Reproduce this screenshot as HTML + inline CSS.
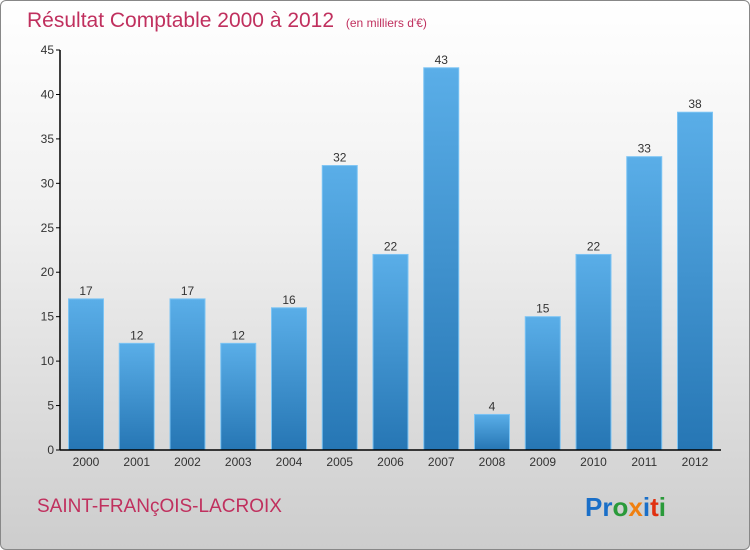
<!DOCTYPE html>
<html><head><meta charset="utf-8"><style>
html,body{margin:0;padding:0;}
body{width:750px;height:550px;overflow:hidden;font-family:"Liberation Sans",sans-serif;}
#wrap{position:relative;width:748px;height:548px;border:1px solid #888;border-radius:6px;background:linear-gradient(#ffffff 0%,#f0f0f0 40%,#cdcdcd 100%);overflow:hidden;}
</style></head><body>
<div id="wrap">
<svg id="chart" width="748" height="548">
<defs><linearGradient id="bg" x1="0" y1="0" x2="0" y2="1"><stop offset="0" stop-color="#5aaee8"/><stop offset="1" stop-color="#2676b4"/></linearGradient></defs>
<text x="26" y="26" font-size="21" fill="#c0305e">Résultat Comptable 2000 à 2012 <tspan font-size="12" dx="6">(en milliers d'€)</tspan></text>
<text x="36" y="511" font-size="19" fill="#c0305e">SAINT-FRANçOIS-LACROIX</text>
<text x="584" y="515" font-size="26" font-weight="bold"><tspan fill="#1a6fc8">Pr</tspan><tspan fill="#2a9a3a">o</tspan><tspan fill="#f08010">x</tspan><tspan fill="#1a6fc8">i</tspan><tspan fill="#e03010">t</tspan><tspan fill="#2a9a3a">i</tspan></text>
</svg>
</div>
<script>
const categories=["2000","2001","2002","2003","2004","2005","2006","2007","2008","2009","2010","2011","2012"];
const values=[17,12,17,12,16,32,22,43,4,15,22,33,38];
const yTicks=[0,5,10,15,20,25,30,35,40,45];
const svg=document.getElementById('chart');
const NS='http://www.w3.org/2000/svg';
const x0=59,y0=449,yTop=49,yMax=45,step=50.75,bw=35;
const y=v=>y0-(v/yMax)*(y0-yTop);
const xc=i=>x0+26+i*step;
function mk(t,a){const e=document.createElementNS(NS,t);for(const k in a)e.setAttribute(k,a[k]);svg.appendChild(e);return e;}
values.forEach((v,i)=>{
 const r=mk('rect',{x:xc(i)-bw/2,y:y(v),width:bw,height:y0-y(v),fill:'url(#bg)',stroke:'#7cc4f4','stroke-width':1});
 
 
 const t=mk('text',{x:xc(i),y:y(v)-4,'font-size':12,fill:'#333','text-anchor':'middle'});t.textContent=v;
 
 
 const c=mk('text',{x:xc(i),y:y0+16,'font-size':12,fill:'#333','text-anchor':'middle'});c.textContent=categories[i];
 
 
});
yTicks.forEach(v=>{
 mk('line',{x1:x0-4,x2:x0,y1:y(v),y2:y(v),stroke:'#000'});
 const t=mk('text',{x:x0-6,y:y(v)+4,'font-size':12,fill:'#333','text-anchor':'end'});t.textContent=v;
 
 
});
const ya=mk('line',{x1:x0,x2:x0,y1:yTop,y2:y0,stroke:'#000','stroke-width':1.5});


const xa=mk('line',{x1:x0,x2:720,y1:y0,y2:y0,stroke:'#000','stroke-width':1.5});


</script>
</body></html>
